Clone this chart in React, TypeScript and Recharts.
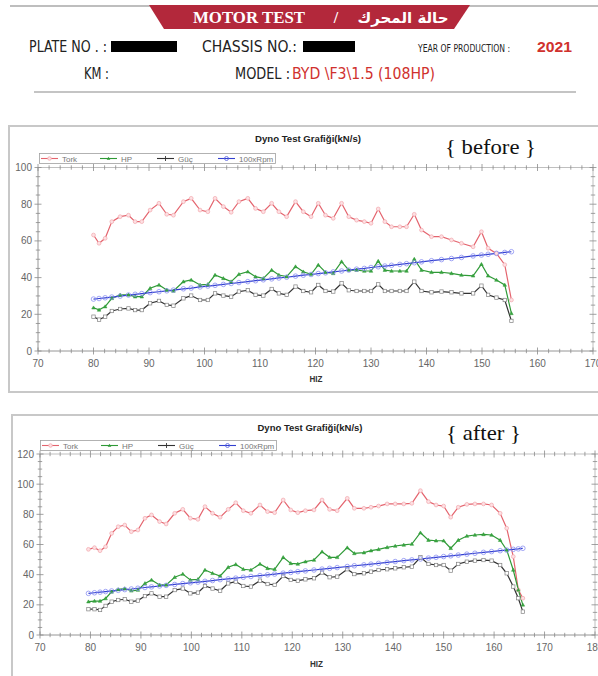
import React from 'react';
import { LineChart, Line, XAxis, YAxis, Legend } from 'recharts';

// ---------- data: chart 1 ("before") ----------
const speed1 = [80, 81, 82.1, 83.3, 84.8, 86.3, 87.5, 88.7, 90.2, 91.8, 93.2, 94.4, 96.2, 97.6, 99.2, 100.6, 101.9, 103.4, 104.8, 106.2, 107.8, 109.2, 110.6, 112.1, 113.4, 114.8, 116.4, 117.8, 119.2, 120.5, 121.8, 123.2, 124.7, 126, 127.4, 128.8, 130, 131.3, 132.5, 133.7, 135.2, 136.4, 137.8, 139.1, 140.9, 142.7, 144.5, 146.3, 148.4, 149.9, 151.1, 152.6, 154.1, 155.3];
const tork1 = [63.2, 58.7, 61.4, 70.5, 73.2, 74.0, 70.5, 70.5, 76.8, 80.5, 74.5, 74.0, 81.4, 83.2, 76.8, 75.9, 83.2, 78.7, 75.6, 81.4, 83.2, 77.7, 75.9, 80.5, 75.9, 73.2, 81.4, 75.9, 73.2, 80.5, 74.0, 72.3, 80.5, 73.2, 71.3, 70.5, 69.6, 77.4, 70.5, 67.7, 67.7, 67.7, 74.5, 65.9, 62.3, 62.3, 60.5, 58.7, 56.8, 65.0, 56.0, 53.2, 47.0, 27.8];
const hp1 = [23.6, 22.4, 24.2, 28.7, 30.6, 30.6, 29.6, 29.6, 34.2, 36.0, 33.3, 32.7, 37.8, 38.7, 36.0, 36.3, 41.4, 39.6, 37.8, 41.8, 43.2, 40.5, 39.6, 44.1, 41.4, 40.5, 46.0, 43.2, 41.8, 46.9, 42.9, 42.3, 48.7, 44.1, 44.1, 43.6, 43.6, 49.0, 44.1, 43.6, 43.6, 43.6, 50.1, 44.1, 42.9, 42.9, 42.3, 41.4, 41.0, 47.3, 41.0, 38.7, 36.0, 20.5];
const guc1 = [18.7, 17.1, 18.7, 21.8, 22.9, 23.2, 22.3, 22.3, 26.0, 27.3, 25.1, 24.7, 28.7, 30.2, 27.8, 27.8, 31.4, 30.2, 29.6, 32.4, 33.1, 30.6, 30.2, 33.8, 31.4, 30.6, 35.1, 32.7, 32.0, 36.0, 32.7, 32.4, 36.9, 33.1, 32.7, 32.7, 32.7, 36.3, 32.7, 32.7, 32.7, 32.7, 37.8, 32.7, 32.0, 32.4, 32.0, 31.4, 31.4, 35.6, 30.6, 29.1, 27.8, 16.4];
const rpm1 = [28.3, 28.6, 29.0, 29.4, 29.9, 30.5, 30.9, 31.3, 31.8, 32.3, 32.8, 33.2, 33.9, 34.3, 34.9, 35.4, 35.8, 36.3, 36.8, 37.3, 37.8, 38.3, 38.8, 39.3, 39.8, 40.2, 40.8, 41.3, 41.7, 42.2, 42.6, 43.1, 43.6, 44.1, 44.6, 45.0, 45.5, 45.9, 46.3, 46.7, 47.2, 47.6, 48.1, 48.6, 49.2, 49.8, 50.4, 51.0, 51.8, 52.3, 52.7, 53.2, 53.7, 54.1];
const xLabels1 = [70, 80, 90, 100, 110, 120, 130, 140, 150, 160, 170];
const yLabels1 = [0, 20, 40, 60, 80, 100];

// ---------- data: chart 2 ("after") ----------
const speed2 = [79.6, 80.8, 81.9, 83.0, 84.2, 85.5, 86.8, 88.1, 89.4, 90.8, 92.1, 93.7, 95.0, 96.7, 98.3, 99.8, 101.3, 102.7, 104.2, 105.7, 107.3, 108.8, 110.3, 111.8, 113.6, 115.1, 116.5, 118.2, 119.7, 121.1, 122.6, 124.3, 125.9, 127.4, 128.9, 130.9, 132.3, 134.2, 135.6, 137.1, 138.8, 140.4, 142.1, 143.7, 145.4, 147.0, 148.5, 150.0, 151.4, 152.9, 154.6, 156.2, 157.9, 159.5, 161.2, 162.5, 163.8, 164.8, 165.7];
const tork2 = [56.8, 57.9, 55.9, 58.5, 67.4, 71.8, 72.9, 68.5, 69.6, 77.4, 79.6, 75.2, 73.6, 80.7, 83.3, 77.4, 76.7, 85.1, 80.7, 78.1, 83.3, 87.7, 82.4, 80.7, 86.2, 81.8, 81.1, 89.5, 82.9, 81.1, 82.4, 82.9, 89.5, 83.3, 82.4, 90.6, 84.0, 84.0, 84.7, 85.5, 86.9, 86.9, 86.9, 87.3, 95.7, 88.4, 86.2, 85.5, 78.1, 84.7, 86.6, 86.9, 86.9, 86.2, 80.7, 70.8, 52.0, 29.9, 24.4];
const hp2 = [22.1, 22.5, 22.5, 24.2, 28.6, 30.2, 30.8, 29.3, 29.8, 34.2, 36.5, 33.2, 33.2, 38.3, 40.4, 36.5, 36.9, 43.1, 40.9, 39.1, 44.9, 46.8, 43.6, 43.1, 47.1, 44.2, 43.6, 51.5, 47.5, 47.1, 48.6, 49.7, 55.2, 51.5, 51.5, 57.9, 54.1, 54.6, 55.9, 56.8, 58.1, 59.0, 59.7, 60.3, 67.8, 62.9, 62.5, 62.5, 57.5, 62.9, 65.6, 66.3, 66.7, 66.3, 62.9, 56.4, 43.1, 29.9, 20.0];
const guc2 = [17.1, 17.1, 16.6, 19.3, 22.1, 23.2, 23.7, 22.1, 22.8, 25.8, 27.6, 25.4, 25.4, 29.8, 30.8, 27.6, 28.1, 32.5, 30.8, 29.3, 34.2, 35.4, 32.5, 32.1, 36.0, 33.8, 33.2, 39.1, 36.5, 36.0, 36.9, 37.6, 41.4, 38.3, 38.7, 43.6, 40.4, 40.9, 42.0, 43.1, 43.6, 44.2, 44.9, 45.3, 51.5, 47.1, 46.4, 46.4, 42.7, 47.1, 48.6, 49.3, 49.7, 49.3, 46.4, 40.9, 32.1, 24.4, 15.5];
const rpm2 = [27.6, 28.0, 28.4, 28.8, 29.2, 29.6, 30.1, 30.5, 31.0, 31.5, 31.9, 32.5, 32.9, 33.5, 34.1, 34.6, 35.1, 35.6, 36.1, 36.7, 37.2, 37.7, 38.3, 38.8, 39.4, 39.9, 40.4, 41.0, 41.5, 42.0, 42.5, 43.1, 43.7, 44.2, 44.7, 45.4, 45.9, 46.5, 47.0, 47.5, 48.1, 48.7, 49.3, 49.8, 50.4, 51.0, 51.5, 52.0, 52.5, 53.0, 53.6, 54.2, 54.8, 55.3, 55.9, 56.3, 56.8, 57.1, 57.5];
const xLabels2 = [70, 80, 90, 100, 110, 120, 130, 140, 150, 160, 170, 180];
const yLabels2 = [0, 20, 40, 60, 80, 100, 120];

const seriesNames = ['Tork', 'HP', 'Güç', '100xRpm'];
const chartTitle = 'Dyno Test Grafiği(kN/s)';
const xAxisName = 'HIZ';

// ---------- styling ----------
const SANS = "'Liberation Sans', Arial, sans-serif";
const NARROW = "'Liberation Sans Narrow', 'DejaVu Sans Condensed', 'Liberation Sans', sans-serif";
const SERIF = "'Liberation Serif', 'Times New Roman', serif";
const COLORS = { tork: '#e4646e', hp: '#2f9a37', guc: '#333333', rpm: '#3340d0' };

function range(a: number, b: number, step: number) {
  const out: number[] = [];
  for (let v = a; v <= b + 1e-9; v += step) out.push(Math.round(v * 100) / 100);
  return out;
}

function buildRows(speed: number[], tork: number[], hp: number[], guc: number[], rpm: number[]) {
  return speed.map((s, i) => ({ speed: s, tork: tork[i], hp: hp[i], guc: guc[i], rpm: rpm[i] }));
}

const TorkDot = (p: any) => (
  <circle key={p.index} cx={p.cx} cy={p.cy} r={1.9} fill="#fde0e3" stroke="#f2a7ad" strokeWidth={0.7} />
);
const HpDot = (p: any) => (
  <path key={p.index} d={`M${p.cx - 1.8},${p.cy + 1.3} L${p.cx},${p.cy - 1.8} L${p.cx + 1.8},${p.cy + 1.3} Z`} fill="#3aa542" stroke="#2f9a37" strokeWidth={0.5} />
);
const GucDot = (p: any) => (
  <rect key={p.index} x={p.cx - 1.7} y={p.cy - 1.7} width={3.4} height={3.4} fill="#fff" stroke="#808080" strokeWidth={0.7} />
);
const RpmDot = (p: any) => (
  <circle key={p.index} cx={p.cx} cy={p.cy} r={2.3} fill="none" stroke="#8c90f2" strokeWidth={0.8} />
);

function makeXTick(labels: number[], showLabel: boolean) {
  return (props: any) => {
    const { x, y, payload } = props;
    const v = payload.value;
    const major = labels.includes(v);
    const len = major ? 3.5 : 2.2;
    return (
      <g>
        <line x1={x} x2={x} y1={y - len} y2={y + len} stroke="#8a8a8a" strokeWidth={0.8} />
        {showLabel && major ? (
          <text x={x} y={y + 16} textAnchor="middle" fontSize={10} fill="#666" fontFamily={SANS}>{v}</text>
        ) : null}
      </g>
    );
  };
}

function makeYTick(labels: number[], showLabel: boolean) {
  return (props: any) => {
    const { x, y, payload } = props;
    const v = payload.value;
    const major = labels.includes(v);
    const len = major ? 3.5 : 2.2;
    return (
      <g>
        <line x1={x - len} x2={x + len} y1={y} y2={y} stroke="#8a8a8a" strokeWidth={0.8} />
        {showLabel && major ? (
          <text x={x - 6} y={y + 3.5} textAnchor="end" fontSize={10} fill="#666" fontFamily={SANS}>{v}</text>
        ) : null}
      </g>
    );
  };
}

const legendMarkers = [
  (cx: number, cy: number) => <circle cx={cx} cy={cy} r={1.8} fill="#fde0e3" stroke="#f2a0a6" strokeWidth={0.7} />,
  (cx: number, cy: number) => <path d={`M${cx - 1.8},${cy + 1.3} L${cx},${cy - 1.8} L${cx + 1.8},${cy + 1.3} Z`} fill="#2f9a37" />,
  (cx: number, cy: number) => <path d={`M${cx},${cy - 2.5} L${cx},${cy + 2.5}`} stroke="#333" strokeWidth={0.9} />,
  (cx: number, cy: number) => <circle cx={cx} cy={cy} r={2} fill="none" stroke="#5560e0" strokeWidth={0.8} />,
];
const legendColors = [COLORS.tork, COLORS.hp, COLORS.guc, COLORS.rpm];
const legendOffsets = [2, 61, 118, 179];

const LegendBox = () => (
  <svg width={238} height={12} style={{ display: 'block', overflow: 'visible' }}>
    <rect x={0.5} y={0.5} width={236} height={10} fill="#fff" stroke="#a0a0a0" strokeWidth={0.8} />
    {seriesNames.map((name, i) => {
      const x0 = legendOffsets[i];
      return (
        <g key={name}>
          <line x1={x0} x2={x0 + 17} y1={5.5} y2={5.5} stroke={legendColors[i]} strokeWidth={1.1} />
          {legendMarkers[i](x0 + 8.5, 5.5)}
          <text x={x0 + 21} y={8.5} fontSize={8} fill="#777" fontFamily={SANS}>{name}</text>
        </g>
      );
    })}
  </svg>
);

type DynoProps = {
  rows: any[];
  top: number;
  height: number;
  margin: { top: number; right: number; bottom: number; left: number };
  xDomain: [number, number];
  yDomain: [number, number];
  xLabels: number[];
  yLabels: number[];
  legendPos: { left: number; top: number };
};

function DynoChart({ rows, top, height, margin, xDomain, yDomain, xLabels, yLabels, legendPos }: DynoProps) {
  const xMinor = range(xDomain[0], xDomain[1], 2);
  const yMinor = range(yDomain[0], yDomain[1], 5);
  const axisCommon = { tickSize: 0, tickMargin: 0, interval: 0 as const, allowDataOverflow: true };
  return (
    <div style={{ position: 'absolute', left: 0, top }}>
      <LineChart width={600} height={height} data={rows} margin={margin}>
        <XAxis dataKey="speed" type="number" domain={xDomain} ticks={xMinor} height={20}
          axisLine={{ stroke: '#8a8a8a', strokeWidth: 0.9 }} tick={makeXTick(xLabels, true)} {...axisCommon} />
        <XAxis xAxisId="top" orientation="top" dataKey="speed" type="number" domain={xDomain} ticks={xMinor} height={5}
          axisLine={{ stroke: '#b8b8b8', strokeWidth: 0.9 }} tick={makeXTick(xLabels, false)} {...axisCommon} />
        <YAxis type="number" domain={yDomain} ticks={yMinor} width={30}
          axisLine={{ stroke: '#8a8a8a', strokeWidth: 0.9 }} tick={makeYTick(yLabels, true)} {...axisCommon} />
        <YAxis yAxisId="right" orientation="right" type="number" domain={yDomain} ticks={yMinor} width={5}
          axisLine={{ stroke: '#b8b8b8', strokeWidth: 0.9 }} tick={makeYTick(yLabels, false)} {...axisCommon} />
        <Legend layout="horizontal" verticalAlign="middle" align="center" content={() => <LegendBox />}
          wrapperStyle={{ left: legendPos.left, top: legendPos.top, width: 238, height: 12 }} />
        <Line dataKey="tork" name={seriesNames[0]} stroke={COLORS.tork} strokeWidth={1.2} dot={TorkDot} isAnimationActive={false} type="linear" />
        <Line dataKey="hp" name={seriesNames[1]} stroke={COLORS.hp} strokeWidth={1.2} dot={HpDot} isAnimationActive={false} type="linear" />
        <Line dataKey="guc" name={seriesNames[2]} stroke={COLORS.guc} strokeWidth={1.2} dot={GucDot} isAnimationActive={false} type="linear" />
        <Line dataKey="rpm" name={seriesNames[3]} stroke={COLORS.rpm} strokeWidth={1.2} dot={RpmDot} isAnimationActive={false} type="linear" />
      </LineChart>
    </div>
  );
}

export default function App() {
  const rows1 = buildRows(speed1, tork1, hp1, guc1, rpm1);
  const rows2 = buildRows(speed2, tork2, hp2, guc2, rpm2);
  return (
    <div style={{ position: 'absolute', left: 0, top: 0, width: 598, height: 676, overflow: 'hidden', background: '#fff' }}>
      <svg width={598} height={676} style={{ position: 'absolute', left: 0, top: 0 }}>
        {/* header */}
        <line x1={10} x2={598} y1={6} y2={6} stroke="#a8a8a8" strokeWidth={1.5} />
        <polygon points="149,5 470,5 454,29 164,29" fill="#b3283b" />
        <text x={193} y={23} fontSize={16} fontWeight="bold" fill="#fff" fontFamily={SERIF} textLength={112} lengthAdjust="spacingAndGlyphs">MOTOR TEST</text>
        <text x={336} y={23} fontSize={16} fontWeight="bold" fill="#fff" fontFamily={SERIF} textAnchor="middle">/</text>
        <text x={403} y={23} fontSize={15} fontWeight="bold" fill="#fff" fontFamily="'DejaVu Sans', sans-serif" textAnchor="middle">حالة المحرك</text>

        <text x={29} y={52} fontSize={15} fill="#222" fontFamily={NARROW} textLength={78} lengthAdjust="spacingAndGlyphs">PLATE NO . :</text>
        <rect x={111} y={41} width={66} height={11} fill="#000" />
        <text x={202} y={52} fontSize={15} fill="#222" fontFamily={NARROW} textLength={95} lengthAdjust="spacingAndGlyphs">CHASSIS NO.:</text>
        <rect x={303} y={41} width={52} height={11} fill="#000" />
        <text x={418} y={52} fontSize={10} fill="#222" fontFamily={NARROW} textLength={92} lengthAdjust="spacingAndGlyphs">YEAR OF PRODUCTION :</text>
        <text x={537} y={52} fontSize={14} fontWeight="bold" fill="#d0312d" fontFamily={SANS} textLength={35} lengthAdjust="spacingAndGlyphs">2021</text>
        <text x={84} y={79} fontSize={15} fill="#222" fontFamily={NARROW} textLength={25} lengthAdjust="spacingAndGlyphs">KM :</text>
        <text x={235} y={79} fontSize={15} fill="#222" fontFamily={NARROW} textLength={55} lengthAdjust="spacingAndGlyphs">MODEL :</text>
        <text x={292} y={79} fontSize={15} fill="#d0312d" fontFamily={NARROW} textLength={143} lengthAdjust="spacingAndGlyphs">{'BYD \\F3\\1.5 (108HP)'}</text>
        <line x1={34} x2={576} y1={92} y2={92} stroke="#8a8a8a" strokeWidth={1.2} />

        {/* chart frames */}
        <rect x={9} y={126} width={600} height={266} fill="#fff" stroke="#c8c8c8" strokeWidth={2} />
        <rect x={12} y={415} width={600} height={262} fill="#fff" stroke="#c8c8c8" strokeWidth={2} />

        {/* chart 1 labels */}
        <text x={308} y={141.5} fontSize={9} fontWeight="bold" fill="#222" fontFamily={SANS} textAnchor="middle" textLength={106} lengthAdjust="spacingAndGlyphs">{chartTitle}</text>
        <text x={445} y={154} fontSize={21} fill="#111" fontFamily={SERIF} textLength={91} lengthAdjust="spacingAndGlyphs">{'{ before }'}</text>
        <text x={316} y={381.5} fontSize={9} fontWeight="bold" fill="#333" fontFamily={SANS} textAnchor="middle" textLength={13} lengthAdjust="spacingAndGlyphs">{xAxisName}</text>

        {/* chart 2 labels */}
        <text x={310} y={430.5} fontSize={9} fontWeight="bold" fill="#222" fontFamily={SANS} textAnchor="middle" textLength={105} lengthAdjust="spacingAndGlyphs">{chartTitle}</text>
        <text x={446} y={440} fontSize={21} fill="#111" fontFamily={SERIF} textLength={75} lengthAdjust="spacingAndGlyphs">{'{ after }'}</text>
        <text x={316.5} y={666.5} fontSize={9} fontWeight="bold" fill="#333" fontFamily={SANS} textAnchor="middle" textLength={13} lengthAdjust="spacingAndGlyphs">{xAxisName}</text>
      </svg>

      <DynoChart rows={rows1} top={125} height={268}
        margin={{ top: 37.5, right: 2, bottom: 22, left: 8 }}
        xDomain={[70, 170]} yDomain={[0, 100]} xLabels={xLabels1} yLabels={yLabels1}
        legendPos={{ left: 39, top: 28 }} />
      <DynoChart rows={rows2} top={414} height={262}
        margin={{ top: 35, right: 0, bottom: 21, left: 10 }}
        xDomain={[70, 180]} yDomain={[0, 120]} xLabels={xLabels2} yLabels={yLabels2}
        legendPos={{ left: 40, top: 26 }} />
    </div>
  );
}
